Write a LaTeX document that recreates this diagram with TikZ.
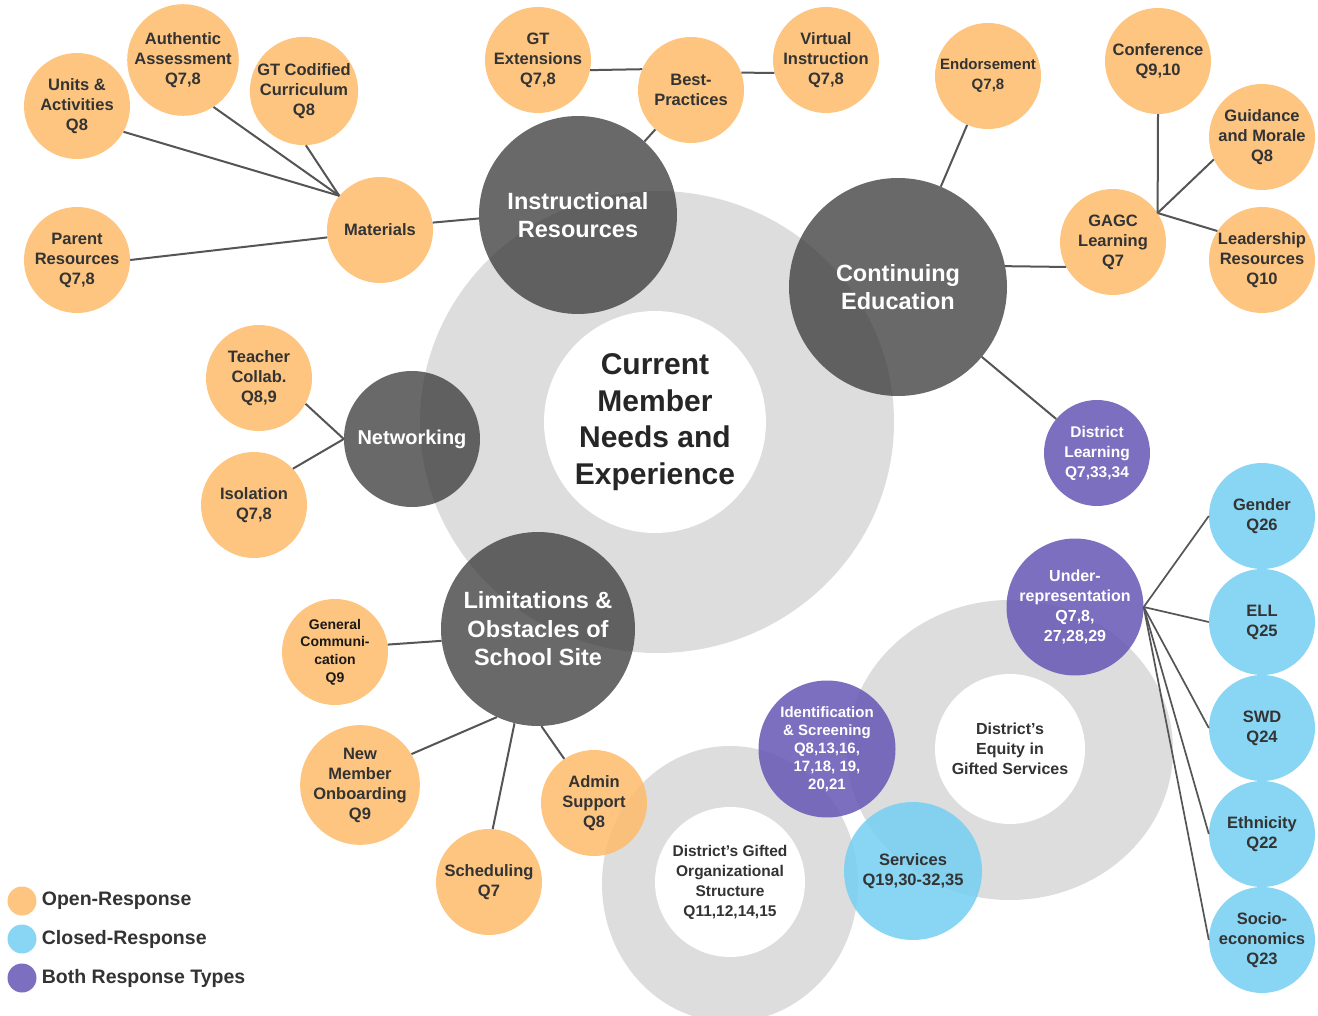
\documentclass[tikz,border=0pt]{standalone}
\usepackage{fontspec}
\setmainfont{Liberation Sans}
\usetikzlibrary{positioning}
\definecolor{openc}{HTML}{FDBC6A}
\definecolor{closedc}{HTML}{74CFF3}
\definecolor{bothc}{HTML}{6656B5}
\definecolor{hubc}{HTML}{2D2D2D}
\definecolor{ringc}{HTML}{DDDDDD}
\definecolor{linkc}{HTML}{555555}
\definecolor{inkc}{HTML}{333333}
\tikzset{
	bubble/.style={circle, inner sep=0pt, minimum size=#1, align=center, text opacity=1},
	open/.style={bubble=106pt, fill=openc, fill opacity=0.85, text=inkc, font=\bfseries\fontsize{16.5}{20}\selectfont},
	closed/.style={bubble=106pt, fill=closedc, fill opacity=0.85, text=inkc, font=\bfseries\fontsize{16.5}{20}\selectfont},
	both/.style={bubble=137pt, fill=bothc, fill opacity=0.85, text=white, font=\bfseries\fontsize{16}{20}\selectfont},
	hub/.style={bubble=196pt, fill=hubc, fill opacity=0.71, text=white, font=\bfseries\fontsize{23.5}{28.5}\selectfont},
	core/.style={bubble=150pt, fill=white, text=inkc, font=\bfseries\fontsize{16}{20}\selectfont},
	link/.style={draw=linkc, line width=2pt},
	key/.style={circle, inner sep=0pt, minimum size=29pt, fill opacity=0.85},
	keytext/.style={inner sep=0pt, text=inkc, font=\bfseries\fontsize{19.5}{22}\selectfont}
}
\begin{document}
\begin{tikzpicture}[x=1pt, y=-1pt]
	\useasboundingbox (0,0) rectangle (1318,1016);
	\fill[white] (0,0) rectangle (1318,1016);
	\fill[ringc] (657,422) ellipse [x radius=237, y radius=231];
	\fill[ringc] (1010,750) ellipse [x radius=163, y radius=150];
	\fill[ringc] (730,884) ellipse [x radius=128, y radius=138];

	\node[core, minimum size=222pt, text=black!85, font=\bfseries\fontsize{30}{36.5}\selectfont] (needs) at (655,422) {Current\\Member\\Needs and\\Experience};
	\node[core] (equity) at (1010,749) {District's\\Equity in\\Gifted Services};
	\node[core, font=\bfseries\fontsize{15.5}{20}\selectfont] (giftedorg) at (730,882) {District's Gifted\\Organizational\\Structure\\Q11,12,14,15};

	\node[hub, minimum size=198pt] (instr) at (578,215) {Instructional\\Resources};
	\node[hub, minimum size=218pt] (contedu) at (898,287) {Continuing\\Education};
	\node[hub, minimum size=136pt, font=\bfseries\fontsize{20}{24}\selectfont] (networking) at (412,439) {Networking};
	\node[hub, minimum size=194pt] (limits) at (538,629) {Limitations \&\\Obstacles of\\School Site};

	\node[open] (units) at (77,106) {Units \&\\Activities\\Q8};
	\node[open] (authentic) at (183,60) {Authentic\\Assessment\\Q7,8};
	\node[open] (codified) at (304,91) {GT Codified\\Curriculum\\Q8};
	\node[open] (parent) at (77,260) {Parent\\Resources\\Q7,8};
	\node[open] (materials) at (380,230) {Materials};
	\node[open] (extensions) at (538,60) {GT\\Extensions\\Q7,8};
	\node[open] (practices) at (691,90) {Best-\\Practices};
	\node[open] (virtual) at (826,60) {Virtual\\Instruction\\Q7,8};
	\node[open, font=\bfseries\fontsize{15}{20}\selectfont] (endorse) at (988,76) {Endorsement\\Q7,8};
	\node[open] (conference) at (1158,61) {Conference\\Q9,10};
	\node[open] (guidance) at (1262,137) {Guidance\\and Morale\\Q8};
	\node[open] (gagc) at (1113,242) {GAGC\\Learning\\Q7};
	\node[open] (leadership) at (1262,260) {Leadership\\Resources\\Q10};
	\node[open] (collab) at (259,378) {Teacher\\Collab.\\Q8,9};
	\node[open] (isolation) at (254,505) {Isolation\\Q7,8};
	\node[open, font=\bfseries\fontsize{14}{17.7}\selectfont, text=black!90] (generalcomm) at (335,652) {General\\Communi-\\cation\\Q9};
	\node[open] (onboarding) at (360,785) {New\\Member\\Onboarding\\Q9};
	\node[open] (scheduling) at (489,882) {Scheduling\\Q7};
	\node[open] (admin) at (594,803) {Admin\\Support\\Q8};

	\node[both, minimum size=106pt, font=\bfseries\fontsize{15.5}{20}\selectfont] (distlearn) at (1097,453) {District\\Learning\\Q7,33,34};
	\node[both] (underrep) at (1075,607) {Under-\\representation\\Q7,8,\\27,28,29};
	\node[both, font=\bfseries\fontsize{15}{18}\selectfont] (identify) at (827,749) {Identification\\\& Screening\\Q8,13,16,\\17,18, 19,\\20,21};

	\node[closed] (gender) at (1262,516) {Gender\\Q26};
	\node[closed] (ell) at (1262,622) {ELL\\Q25};
	\node[closed] (swd) at (1262,728) {SWD\\Q24};
	\node[closed] (ethnicity) at (1262,834) {Ethnicity\\Q22};
	\node[closed] (socio) at (1262,940) {Socio-\\economics\\Q23};
	\node[closed, minimum size=138pt] (services) at (913,871) {Services\\Q19,30-32,35};

	\draw[link] (units.-29) -- (materials.140);
	\draw[link] (authentic.-57) -- (materials.140);
	\draw[link] (codified.-88) -- (materials.140);
	\draw[link] (parent.east) -- (materials.188);
	\draw[link] (materials.8) -- (instr.182);
	\draw[link] (extensions.-11) -- (practices.157);
	\draw[link] (practices.19) -- (virtual.194);
	\draw[link] (practices) -- (instr);
	\draw[link] (endorse) -- (contedu);
	\draw[link] (contedu.11) -- (gagc.208);
	\draw[link] (conference.south) -- (gagc.33);
	\draw[link] (guidance.205) -- (gagc.33);
	\draw[link] (leadership.147) -- (gagc.33);
	\draw[link] (contedu) -- (distlearn);
	\draw[link] (collab.-29) -- (networking.west);
	\draw[link] (isolation.43) -- (networking.west);
	\draw[link] (generalcomm.8) -- (limits.187);
	\draw[link] (onboarding.31) -- (limits.245);
	\draw[link] (scheduling.86) -- (limits.256);
	\draw[link] (admin.124) -- (limits.272);
	\foreach \q in {gender,ell,swd,ethnicity,socio}
	\draw[link, line width=1.7pt] (underrep.east) -- (\q.west);

	\node[key, fill=openc] (keyopen) at (22,901) {};
	\node[key, fill=closedc] (keyclosed) at (22,939) {};
	\node[key, fill=bothc] (keyboth) at (22,978) {};
	\node[keytext, right=5pt of keyopen] {Open-Response};
	\node[keytext, right=5pt of keyclosed] {Closed-Response};
	\node[keytext, right=5pt of keyboth] {Both Response Types};
\end{tikzpicture}
\end{document}
